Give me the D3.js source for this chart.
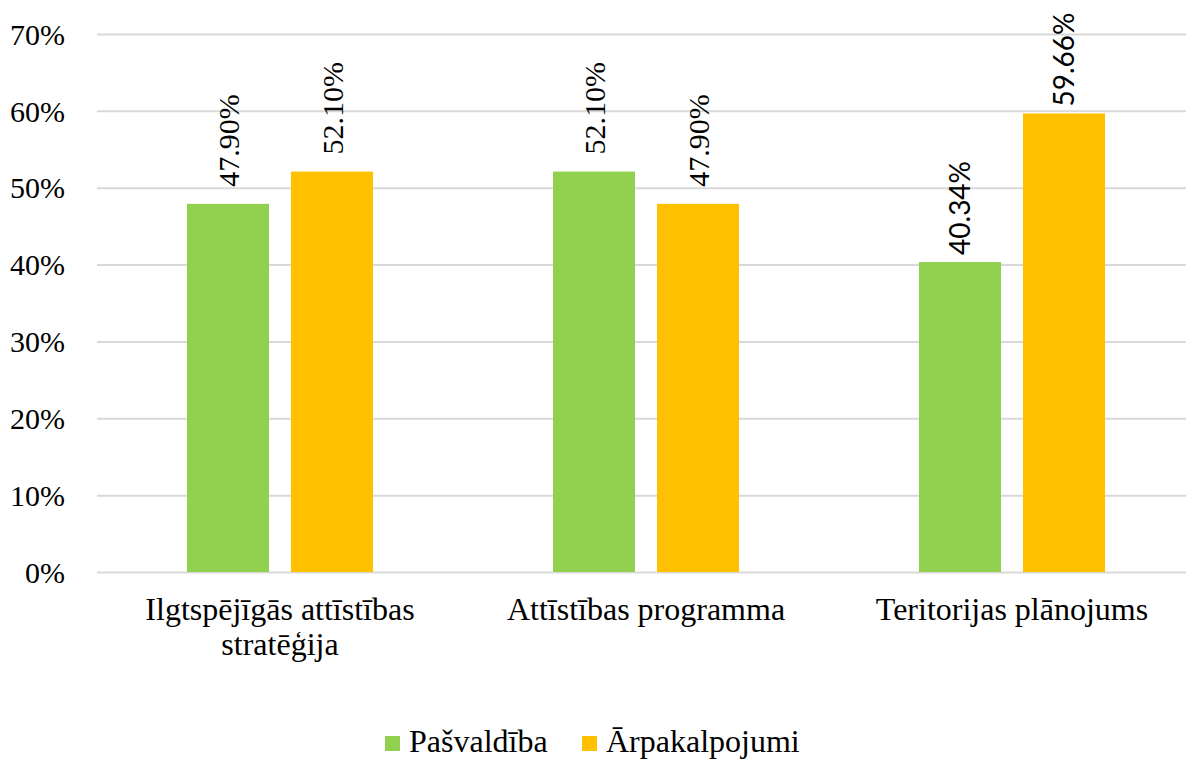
<!DOCTYPE html>
<html>
<head>
<meta charset="utf-8">
<script src="https://cdn.jsdelivr.net/npm/d3@7"></script>
<style>
  body { margin: 0; background: #fff; }
</style>
</head>
<body>
<script>
// chart data
const categories = ["Ilgtspējīgās attīstības stratēģija", "Attīstības programma", "Teritorijas plānojums"];
const seriesNames = ["Pašvaldība", "Ārpakalpojumi"];
const pasvaldiba = [47.90, 52.10, 40.34];
const arpakalpojumi = [52.10, 47.90, 59.66];
const yTicks = [0, 10, 20, 30, 40, 50, 60, 70];

const colors = ["#92D050", "#FFC000"];
const serif = "'Liberation Serif', 'Times New Roman', serif";
const sans = "Lato, 'Open Sans', sans-serif";

const width = 1186, height = 760;
const plot = { left: 97, right: 1195, top: 34, bottom: 572 };

const svg = d3.select("body").append("svg")
  .attr("width", width)
  .attr("height", height);

// scales
const x0 = d3.scaleBand()
  .domain(categories)
  .range([plot.left, plot.right])
  .paddingInner(180 / 366)
  .paddingOuter(90 / 366);

const x1 = d3.scaleBand()
  .domain(seriesNames)
  .range([0, x0.bandwidth()])
  .paddingInner(22 / 104);

const y = d3.scaleLinear().domain([0, 70]).range([plot.bottom, plot.top]);

// gridlines + y labels
const yAxis = svg.append("g")
  .attr("transform", `translate(${plot.left},0)`)
  .call(d3.axisLeft(y).tickValues(yTicks).tickSize(-(width - plot.left)).tickFormat(d => d + "%"))
  .attr("font-family", null)
  .attr("font-size", null);
yAxis.select(".domain").remove();
yAxis.selectAll(".tick line").attr("stroke", "#D9D9D9").attr("stroke-width", 2);
yAxis.selectAll(".tick text")
  .attr("x", -32)
  .attr("dy", "0.34em")
  .style("font-family", serif)
  .style("font-size", "30px")
  .style("fill", "#000");

// bars
const rows = categories.map((c, i) => ({ cat: c, i, vals: [pasvaldiba[i], arpakalpojumi[i]] }));

const groups = svg.selectAll(".grp")
  .data(rows)
  .enter().append("g")
  .attr("class", "grp")
  .attr("transform", d => `translate(${x0(d.cat)},0)`);

groups.selectAll("rect")
  .data(d => d.vals.map((v, k) => ({ v, k, i: d.i })))
  .enter().append("rect")
  .attr("x", d => x1(seriesNames[d.k]))
  .attr("y", d => y(d.v))
  .attr("width", x1.bandwidth())
  .attr("height", d => y(0) - y(d.v))
  .attr("fill", d => colors[d.k]);

// value labels, rotated; the last group's labels use a sans face
groups.selectAll(".lbl")
  .data(d => d.vals.map((v, k) => ({ v, k, i: d.i })))
  .enter().append("text")
  .attr("class", "lbl")
  .attr("transform", d => {
    const cx = x1(seriesNames[d.k]) + x1.bandwidth() / 2;
    const off = d.i === 2 ? 7 : 17;
    return `translate(${cx},${y(d.v) - off}) rotate(-90)`;
  })
  .attr("dy", "0.35em")
  .attr("text-anchor", "start")
  .style("font-family", d => d.i === 2 ? sans : serif)
  .style("font-size", d => d.i === 2 ? "28px" : "30px")
  .style("fill", "#000")
  .text(d => d.v.toFixed(2) + "%");

// category labels (second line for the long one)
const catLines = categories.map(c => c === categories[0]
  ? ["Ilgtspējīgās attīstības", "stratēģija"] : [c]);

svg.selectAll(".cat")
  .data(categories)
  .enter().append("text")
  .attr("class", "cat")
  .attr("text-anchor", "middle")
  .style("font-family", serif)
  .style("font-size", "32px")
  .style("fill", "#000")
  .selectAll("tspan")
  .data((d, i) => catLines[i].map(l => ({ l, cat: d })))
  .enter().append("tspan")
  .attr("x", d => x0(d.cat) + x0.bandwidth() / 2)
  .attr("y", (d, j) => 620 + j * 35)
  .text(d => d.l);

// legend
const legend = svg.append("g");
const legendX = [385, 582];
seriesNames.forEach((s, k) => {
  legend.append("rect")
    .attr("x", legendX[k])
    .attr("y", 736)
    .attr("width", 15)
    .attr("height", 15)
    .attr("fill", colors[k]);
  legend.append("text")
    .attr("x", legendX[k] + 24)
    .attr("y", 752)
    .style("font-family", serif)
    .style("font-size", "32px")
    .style("fill", "#000")
    .text(s);
});
</script>
</body>
</html>
